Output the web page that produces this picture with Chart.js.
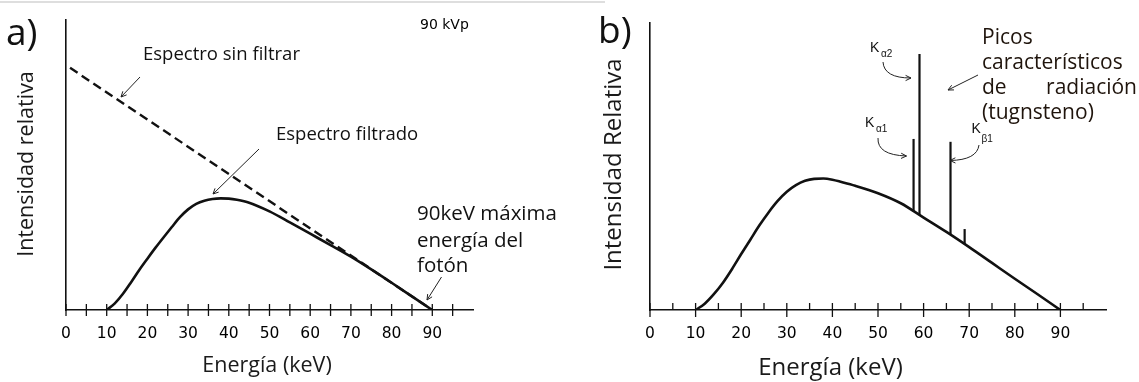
<!DOCTYPE html>
<html>
<head>
<meta charset="utf-8">
<script src="https://cdn.jsdelivr.net/npm/chart.js@4.4.1/dist/chart.umd.min.js"></script>
<style>
  body {margin: 0; background: #fff;}
  #wrap {position: relative; width: 1139px; height: 382px; overflow: hidden;}
  .box {position: absolute; top: 0; height: 382px;}
  #boxA {left: 0; width: 570px;}
  #boxB {left: 570px; width: 569px;}
  #rule {position: absolute; left: 0; top: 1px; width: 605px; height: 2px; background: #dedede;}
</style>
</head>
<body>
<div id="wrap">
  <div id="rule"></div>
  <div class="box" id="boxA"><canvas id="specA"></canvas></div>
  <div class="box" id="boxB"><canvas id="specB"></canvas></div>
</div>
<script>
// panel a) filtered vs unfiltered spectrum (keV, relative intensity 0-100)
const energyA = [10, 12, 14, 16, 18, 20, 22, 24, 26, 28, 30, 32, 34, 36, 38, 40, 42, 45, 50, 55, 60, 65, 70, 75, 80, 85, 90]
const filteredA = [0, 2.3, 5.6, 9.6, 13.8, 17.7, 21.5, 25.1, 28.6, 32.0, 34.7, 36.6, 37.7, 38.3, 38.5, 38.4, 38.0, 37.0, 34.0, 30.2, 26.3, 22.4, 18.4, 14.0, 9.4, 4.7, 0]
const unfilteredEnergy = [1, 90]
const unfilteredA = [83.5, 0]

// panel b) spectrum with tungsten characteristic lines
const energyB = [10, 12, 14, 16, 18, 20, 22, 24, 26, 28, 30, 32, 34, 36, 38, 40, 42, 45, 50, 55, 60, 65, 70, 75, 80, 85, 90]
const spectrumB = [0, 2.2, 5.5, 9.5, 14.3, 19.5, 24.5, 29.5, 34.0, 38.0, 41.2, 43.5, 45.0, 45.7, 45.8, 45.4, 44.6, 43.3, 40.7, 37.2, 32.2, 27.2, 21.9, 16.4, 10.9, 5.5, 0]
const peakEnergy = [57.8, 59.1, 65.9, 69.0]
const peakBase = [34.3, 33.2, 26.2, 22.9]
const peakTop = [59.6, 89.2, 58.6, 28.2]

const ink = '#111'
const sans = '"Open Sans"'

Chart.defaults.font.family = '"DejaVu Sans"'
Chart.defaults.font.size = 15.5

const pts = (xs, ys) => xs.map((x, i) => ({x: x, y: ys[i]}))

// tick marks that cross the axis line
const tickMarks = {
  id: 'tickMarks',
  afterDraw(chart, args, opts) {
    const {ctx, scales: {x, y}} = chart
    const base = y.getPixelForValue(0)
    ctx.save()
    ctx.strokeStyle = ink
    ctx.lineWidth = 1.3
    x.ticks.forEach(t => {
      if (t.value >= 100) return
      const px = x.getPixelForValue(t.value)
      const major = t.value % 10 === 0
      ctx.beginPath()
      ctx.moveTo(px, base - opts.up)
      ctx.lineTo(px, base + (major ? opts.downMajor : opts.downMinor))
      ctx.stroke()
    })
    ctx.restore()
  }
}

// labels and arrows drawn on top
const notes = {
  id: 'notes',
  afterDraw(chart, args, opts) {
    const ctx = chart.ctx
    ctx.save()
    ;(opts.texts || []).forEach(t => {
      ctx.font = t.font
      ctx.fillStyle = t.color || ink
      if (t.rotate) {
        ctx.save()
        ctx.translate(t.x, t.y)
        ctx.rotate(-Math.PI / 2)
        ctx.textAlign = 'center'
        ctx.textBaseline = 'middle'
        ctx.fillText(t.text, 0, 0)
        ctx.restore()
      } else {
        ctx.textAlign = t.align || 'left'
        ctx.textBaseline = 'alphabetic'
        ctx.fillText(t.text, t.x, t.y)
      }
    })
    ctx.strokeStyle = '#222'
    ctx.lineWidth = 1
    ;(opts.arrows || []).forEach(a => {
      ctx.beginPath()
      ctx.moveTo(a.from[0], a.from[1])
      if (a.ctrl) ctx.quadraticCurveTo(a.ctrl[0], a.ctrl[1], a.to[0], a.to[1])
      else ctx.lineTo(a.to[0], a.to[1])
      ctx.stroke()
      const p = a.ctrl || a.from
      const ang = Math.atan2(a.to[1] - p[1], a.to[0] - p[0])
      ctx.beginPath()
      ctx.moveTo(a.to[0] - 6 * Math.cos(ang - 0.45), a.to[1] - 6 * Math.sin(ang - 0.45))
      ctx.lineTo(a.to[0], a.to[1])
      ctx.lineTo(a.to[0] - 6 * Math.cos(ang + 0.45), a.to[1] - 6 * Math.sin(ang + 0.45))
      ctx.stroke()
    })
    ctx.restore()
  }
}

function baseOptions(pad, marks, texts, arrows) {
  return {
    responsive: true,
    maintainAspectRatio: false,
    animation: false,
    layout: {padding: pad},
    elements: {point: {radius: 0}},
    plugins: {
      legend: {display: false},
      tooltip: {enabled: false},
      tickMarks: marks,
      notes: {texts: texts, arrows: arrows},
    },
    scales: {
      x: {
        type: 'linear', min: 0, max: 100,
        afterFit: s => { s.height = 72 },
        grid: {display: false},
        border: {color: ink, width: 1.4},
        ticks: {
          stepSize: 5, autoSkip: false, maxRotation: 0, padding: 7, color: '#000',
          font: {family: '"DejaVu Sans"', size: 15.5},
          callback: v => (v % 10 === 0 && v <= 90) ? v : '',
        },
      },
      y: {
        min: 0, max: 100,
        grid: {display: false},
        ticks: {display: false},
        border: {color: ink, width: 1.6},
      },
    },
  }
}

new Chart(document.getElementById('specA'), {
  type: 'line',
  data: {
    datasets: [
      {data: pts(unfilteredEnergy, unfilteredA), borderColor: ink, borderWidth: 2.4, borderDash: [9, 5]},
      {data: pts(energyA, filteredA), borderColor: ink, borderWidth: 2.6, cubicInterpolationMode: 'monotone'},
    ],
  },
  options: baseOptions(
    {left: 58, right: 97, top: 20, bottom: 0},
    {up: 6, downMajor: 6, downMinor: 6},
    [
      {text: 'a)', x: 6, y: 45, font: '37px ' + sans},
      {text: '90 kVp', x: 420, y: 29, font: '14px "DejaVu Sans"', color: '#000'},
      {text: 'Espectro sin filtrar', x: 143, y: 60, font: '18.5px ' + sans},
      {text: 'Espectro filtrado', x: 276, y: 140, font: '18.5px ' + sans},
      {text: '90keV máxima', x: 417, y: 220, font: '20.5px ' + sans},
      {text: 'energía del', x: 417, y: 246.5, font: '20.5px ' + sans},
      {text: 'fotón', x: 417, y: 272, font: '20.5px ' + sans},
      {text: 'Intensidad relativa', x: 27, y: 164, rotate: true, font: '21.5px ' + sans, color: '#1a1a1a'},
      {text: 'Energía (keV)', x: 267, y: 372, align: 'center', font: '21.5px ' + sans, color: '#1a1a1a'},
    ],
    [
      {from: [140, 77], to: [121, 97]},
      {from: [259, 149], to: [213, 194]},
      {from: [441.5, 277], to: [427, 300]},
    ]
  ),
  plugins: [tickMarks, notes],
})

new Chart(document.getElementById('specB'), {
  type: 'line',
  data: {
    datasets: [
      {data: pts(energyB, spectrumB), borderColor: ink, borderWidth: 2.6, cubicInterpolationMode: 'monotone'},
    ].concat(peakEnergy.map((e, i) => ({
      data: [{x: e, y: peakBase[i]}, {x: e, y: peakTop[i]}],
      borderColor: ink, borderWidth: 2.2,
    }))),
  },
  options: baseOptions(
    {left: 72, right: 33, top: 23, bottom: 0},
    {up: 7, downMajor: 7, downMinor: 0},
    [
      {text: 'b)', x: 28, y: 43, font: '37px ' + sans},
      {text: 'Intensidad Relativa', x: 44.5, y: 164.5, rotate: true, font: '24px ' + sans, color: '#1a1a1a'},
      {text: 'Energía (keV)', x: 260.5, y: 375, align: 'center', font: '24px ' + sans, color: '#1a1a1a'},
      {text: 'Picos', x: 412, y: 44, font: '21px ' + sans, color: '#1f140c'},
      {text: 'característicos', x: 412, y: 69, font: '21px ' + sans, color: '#1f140c'},
      {text: 'de', x: 412, y: 94, font: '21px ' + sans, color: '#1f140c'},
      {text: 'radiación', x: 567, y: 94, align: 'right', font: '21px ' + sans, color: '#1f140c'},
      {text: '(tugnsteno)', x: 412, y: 119, font: '21px ' + sans, color: '#1f140c'},
      {text: 'K', x: 300, y: 52, font: '14px "Liberation Sans"'},
      {text: 'α2', x: 311, y: 57, font: '10px "Liberation Sans"'},
      {text: 'K', x: 295, y: 127, font: '14px "Liberation Sans"'},
      {text: 'α1', x: 306, y: 132, font: '10px "Liberation Sans"'},
      {text: 'K', x: 401.5, y: 133, font: '14px "Liberation Sans"'},
      {text: 'β1', x: 411.5, y: 142, font: '10px "Liberation Sans"'},
    ],
    [
      {from: [408, 75], to: [378, 90]},
      {from: [313, 62], ctrl: [314, 78], to: [341, 78]},
      {from: [308, 138], ctrl: [307, 155], to: [336.5, 156]},
      {from: [409, 145], ctrl: [407, 160], to: [380, 160.5]},
    ]
  ),
  plugins: [tickMarks, notes],
})
</script>
</body>
</html>
